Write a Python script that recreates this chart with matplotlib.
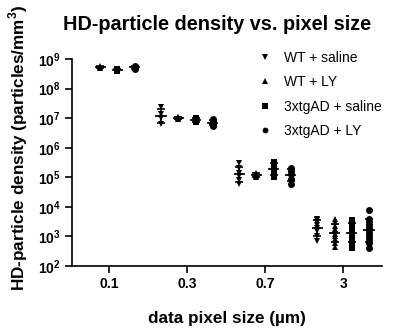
import numpy as np
import matplotlib
matplotlib.use("Agg")
import matplotlib.pyplot as plt

plt.rcParams['font.family'] = ['Liberation Sans', 'DejaVu Sans']
plt.rcParams['mathtext.fontset'] = 'custom'
plt.rcParams['mathtext.rm'] = 'Liberation Sans:bold'
plt.rcParams['mathtext.bf'] = 'Liberation Sans:bold'

categories = ['0.1', '0.3', '0.7', '3']
series_names = ['WT + saline', 'WT + LY', '3xtgAD + saline', '3xtgAD + LY']
markers = ['v', '^', 's', 'o']

wt_saline = [
    [],
    [2.4e7, 1.4e7, 1.0e7, 6.5e6],
    [3.0e5, 2.0e5, 1.4e5, 1.1e5, 8.0e4, 6.0e4],
    [4.0e3, 3.5e3, 3.0e3, 2.5e3, 2.0e3, 1.5e3, 1.0e3, 7.0e2],
]
wt_ly = [
    [6.0e8, 5.4e8, 5.0e8],
    [1.1e7, 1.0e7, 9.5e6, 1.05e7],
    [1.4e5, 1.2e5, 1.1e5, 1.0e5],
    [4.0e3, 3.0e3, 2.2e3, 1.8e3, 1.5e3, 1.2e3, 1.0e3, 8.0e2, 6.0e2, 4.5e2],
]
tg_saline = [
    [4.6e8, 4.3e8, 4.0e8, 4.5e8],
    [1.0e7, 9.0e6, 8.0e6, 7.5e6],
    [3.3e5, 2.8e5, 2.0e5, 1.5e5, 1.0e5],
    [3.5e3, 3.0e3, 2.5e3, 2.0e3, 1.6e3, 1.3e3, 1.0e3, 8.0e2, 6.0e2, 4.0e2],
]
tg_ly = [
    [6.0e8, 5.0e8, 4.5e8, 5.5e8],
    [9.5e6, 8.0e6, 7.0e6, 6.0e6, 5.5e6],
    [2.0e5, 1.6e5, 1.3e5, 9.0e4, 6.0e4],
    [8.0e3, 4.0e3, 3.2e3, 2.5e3, 2.0e3, 1.6e3, 1.3e3, 1.0e3, 8.0e2, 6.0e2, 4.0e2],
]
all_series = [wt_saline, wt_ly, tg_saline, tg_ly]
ytick_exps = [2, 3, 4, 5, 6, 7, 8, 9]

fig = plt.figure(figsize=(3.94, 3.33), dpi=100)
ax = fig.add_axes([0.183, 0.201, 0.787, 0.622])
offsets = [-0.33, -0.11, 0.11, 0.33]
ms = 5.0
for si, (series, mk, name) in enumerate(zip(all_series, markers, series_names)):
    for ci, vals in enumerate(series):
        x = ci + offsets[si]
        if len(vals) == 0:
            continue
        v = np.array(vals)
        ax.plot([x] * len(v), v, linestyle='none', marker=mk, color='black',
                markersize=ms, markeredgewidth=0)
        lv = np.log10(v)
        lm = lv.mean()
        lsd = lv.std(ddof=1) if len(v) > 1 else 0.0
        m = 10 ** lm
        lo, hi = 10 ** (lm - lsd), 10 ** (lm + lsd)
        ax.errorbar([x], [m], yerr=[[m - lo], [hi - m]], fmt='none',
                    ecolor='black', elinewidth=1.2, capsize=3, capthick=1.2)
        ax.plot([x - 0.06, x + 0.06], [m, m], color='black', lw=1.3)
    ax.plot([], [], linestyle='none', marker=mk, color='black', markersize=4.2,
            markeredgewidth=0, label=name)

ax.set_yscale('log')
ax.set_ylim(1e2, 1e9)
ax.set_xlim(-0.47, 3.5)
ax.set_yticks([10.0 ** e for e in ytick_exps])
ax.set_yticklabels([r'$\mathbf{10^{%d}}$' % e for e in ytick_exps], fontsize=10)
ax.yaxis.set_minor_locator(matplotlib.ticker.NullLocator())
ax.set_xticks(range(len(categories)))
ax.set_xticklabels(categories, fontsize=10, fontweight='bold')
for s in ['top', 'right']:
    ax.spines[s].set_visible(False)
for s in ['left', 'bottom']:
    ax.spines[s].set_linewidth(1.2)
ax.tick_params(axis='both', width=1.2, length=5, pad=3)
ax.set_title('HD-particle density vs. pixel size', fontsize=14.3, fontweight='bold', pad=20.5,
             x=0.466)
ax.set_xlabel('data pixel size (µm)', fontsize=12.3, fontweight='bold', labelpad=14)
ax.set_ylabel('HD-particle density (particles/mm$^{3}$)', fontsize=12.3, fontweight='bold')
ax.yaxis.set_label_coords(-0.135, 0.57)
leg = ax.legend(loc='upper right', bbox_to_anchor=(1.04, 1.10), frameon=False, fontsize=10,
                handletextpad=0.9, labelspacing=0.75, handlelength=1.0)
fig.savefig('out.png', dpi=100)
